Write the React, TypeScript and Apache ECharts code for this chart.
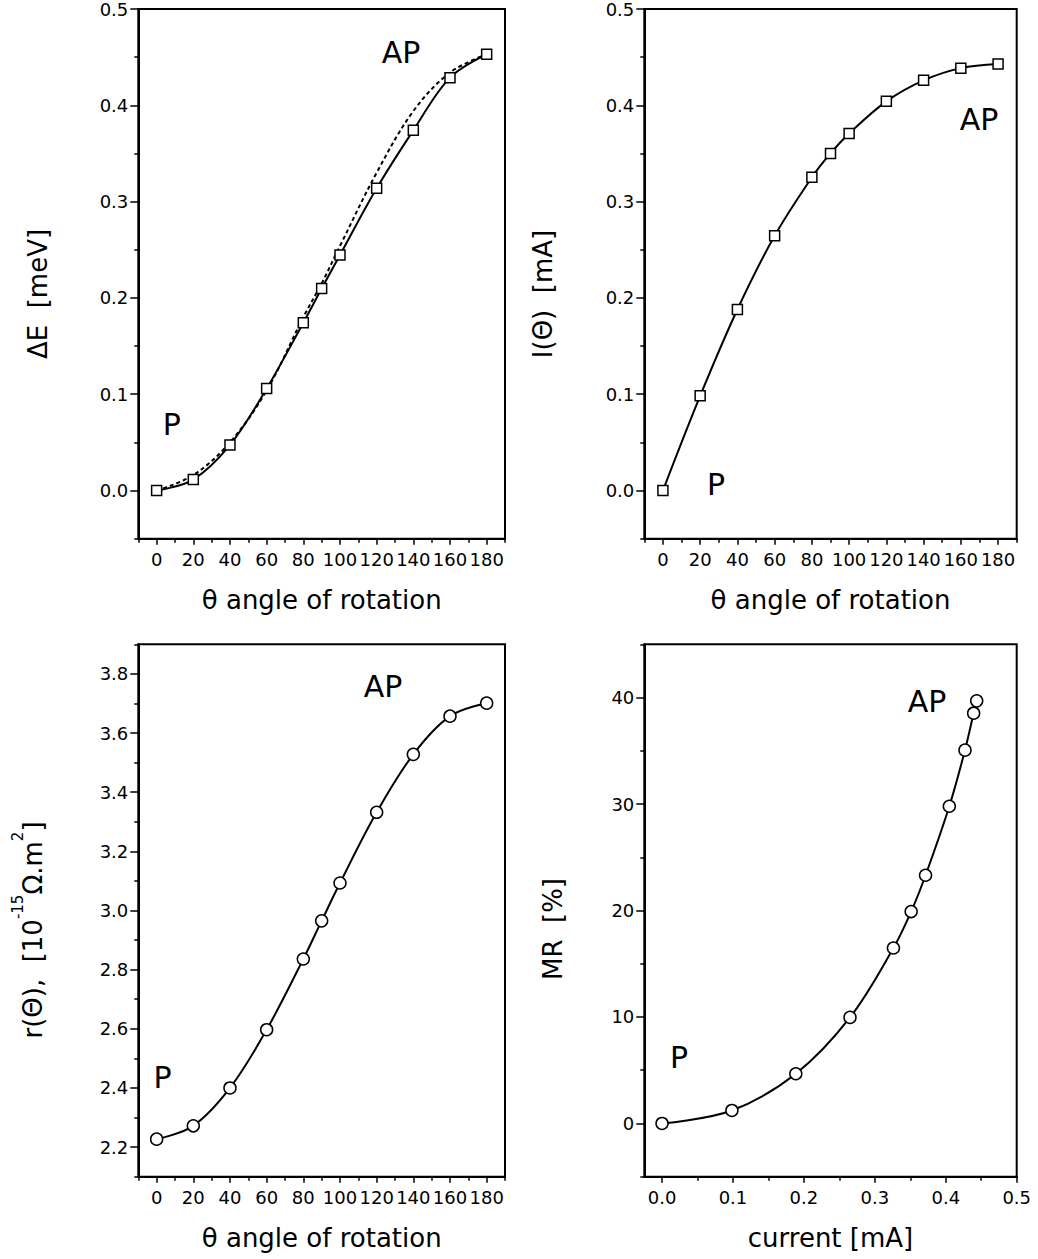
import React, { useEffect, useRef } from 'react';
import * as echarts from 'echarts';

const FONT = '"DejaVu Sans", "Liberation Sans", sans-serif';

// ---- data ----
const angleDeg = [0, 20, 40, 60, 80, 90, 100, 120, 140, 160, 180];
const deltaE = [0, 0.0114, 0.0473, 0.1059, 0.1742, 0.2097, 0.2445, 0.3138, 0.374, 0.4287, 0.453];
const deltaETheory = [0, 0.016, 0.05, 0.104, 0.18, 0.215, 0.254, 0.33, 0.394, 0.434, 0.453];
const currentI = [0, 0.0983, 0.188, 0.2645, 0.3252, 0.35, 0.3707, 0.4041, 0.4259, 0.4386, 0.4428];
const resistR = [2.227, 2.272, 2.4, 2.597, 2.836, 2.965, 3.093, 3.332, 3.528, 3.657, 3.701];
const mrCurrent = [0, 0.0985, 0.1886, 0.265, 0.3262, 0.3512, 0.3715, 0.405, 0.4271, 0.4393, 0.4436];
const mrPercent = [0, 1.22, 4.67, 9.96, 16.48, 19.9, 23.31, 29.79, 35.06, 38.53, 39.69];

// ---- tick values ----
const angleMajor = [0, 20, 40, 60, 80, 100, 120, 140, 160, 180];
const angleMinor = [-10, 10, 30, 50, 70, 90, 110, 130, 150, 170, 190];
const smallMajor = [0, 0.1, 0.2, 0.3, 0.4, 0.5];
const smallMinor = [-0.05, 0.05, 0.15, 0.25, 0.35, 0.45];
const rMajor = [2.2, 2.4, 2.6, 2.8, 3.0, 3.2, 3.4, 3.6, 3.8];
const rMinor = [2.1, 2.3, 2.5, 2.7, 2.9, 3.1, 3.3, 3.5, 3.7, 3.9];
const mrMajor = [0, 10, 20, 30, 40];
const mrMinor = [-5, 5, 15, 25, 35, 45];
const curMajor = [0, 0.1, 0.2, 0.3, 0.4, 0.5];
const curMinor = [0.05, 0.15, 0.25, 0.35, 0.45];

const grids = [
  { left: 138.3, top: 7.3, width: 366.7, height: 531.4 },
  { left: 644.3, top: 7.3, width: 372.4, height: 531.4 },
  { left: 138.3, top: 644.3, width: 366.7, height: 532.4 },
  { left: 644.3, top: 644.3, width: 372.4, height: 532.4 },
];

function axisPair(
  dim: 'x' | 'y',
  gridIndex: number,
  min: number,
  max: number,
  major: number[],
  minor: number[],
  fmt: (v: number) => string
) {
  const base: any = {
    type: 'value',
    gridIndex,
    min,
    max,
    position: dim === 'x' ? 'bottom' : 'left',
    splitLine: { show: false },
  };
  return [
    {
      ...base,
      axisLine: { show: true, onZero: false, lineStyle: { color: '#000', width: 2 } },
      axisTick: {
        show: true,
        customValues: major,
        length: dim === 'x' ? 6 : 8,
        lineStyle: { color: '#000', width: 1.5 },
      },
      axisLabel: {
        show: true,
        customValues: major,
        formatter: fmt,
        color: '#000',
        fontFamily: FONT,
        fontSize: 18,
        margin: dim === 'x' ? 12 : 10,
        showMinLabel: true,
        showMaxLabel: true,
      },
    },
    {
      ...base,
      axisLine: { show: false, onZero: false },
      axisTick: {
        show: true,
        customValues: minor,
        length: 4,
        lineStyle: { color: '#000', width: 1.5 },
      },
      axisLabel: { show: false },
    },
  ];
}

const fmtInt = (v: number) => String(Math.round(v));
const fmt1 = (v: number) => v.toFixed(1);

function pairs(xs: number[], ys: number[]) {
  return xs.map((x, i) => [x, ys[i]]);
}

const markerSeries = (
  idx: number,
  xs: number[],
  ys: number[],
  symbol: string,
  size: number
) => ({
  type: 'line',
  xAxisIndex: idx * 2,
  yAxisIndex: idx * 2,
  data: pairs(xs, ys),
  smooth: 0.35,
  symbol,
  symbolSize: size,
  showSymbol: true,
  silent: true,
  z: 5,
  itemStyle: { color: '#fff', borderColor: '#000', borderWidth: 1.5 },
  lineStyle: { color: '#000', width: 2 },
});

function label(text: string, x: number, y: number, size = 30) {
  return {
    type: 'text',
    x,
    y,
    silent: true,
    style: {
      text,
      fill: '#000',
      fontFamily: FONT,
      fontSize: size,
      align: 'center',
      verticalAlign: 'middle',
    },
  };
}

function vLabel(text: string, x: number, y: number, rich?: any) {
  return {
    type: 'text',
    x,
    y,
    rotation: Math.PI / 2,
    silent: true,
    style: {
      text,
      fill: '#000',
      fontFamily: FONT,
      fontSize: 26,
      align: 'center',
      verticalAlign: 'middle',
      rich,
    },
  };
}

export default function App() {
  const ref = useRef<HTMLDivElement>(null);

  useEffect(() => {
    if (!ref.current) return;
    const chart = echarts.init(ref.current, undefined, { renderer: 'svg' });

    const xAxis = [
      ...axisPair('x', 0, -10, 190, angleMajor, angleMinor, fmtInt),
      ...axisPair('x', 1, -10, 190, angleMajor, angleMinor, fmtInt),
      ...axisPair('x', 2, -10, 190, angleMajor, angleMinor, fmtInt),
      ...axisPair('x', 3, -0.025, 0.5, curMajor, curMinor, fmt1),
    ];
    const yAxis = [
      ...axisPair('y', 0, -0.05, 0.5, smallMajor, smallMinor, fmt1),
      ...axisPair('y', 1, -0.05, 0.5, smallMajor, smallMinor, fmt1),
      ...axisPair('y', 2, 2.1, 3.9, rMajor, rMinor, fmt1),
      ...axisPair('y', 3, -5, 45, mrMajor, mrMinor, fmtInt),
    ];

    const richR = {
      n: { fontFamily: FONT, fontSize: 26, lineHeight: 36, verticalAlign: 'bottom', fill: '#000' },
      s: { fontFamily: FONT, fontSize: 15, lineHeight: 15, verticalAlign: 'top', fill: '#000' },
    };

    const option: any = {
      animation: false,
      backgroundColor: '#fff',
      grid: grids.map((g) => ({
        ...g,
        show: true,
        borderColor: '#000',
        borderWidth: 2,
        backgroundColor: 'transparent',
        containLabel: false,
      })),
      xAxis,
      yAxis,
      series: [
        {
          type: 'line',
          xAxisIndex: 0,
          yAxisIndex: 0,
          data: pairs(angleDeg, deltaETheory),
          smooth: 0.35,
          symbol: 'none',
          silent: true,
          z: 3,
          lineStyle: { color: '#000', width: 2, type: [4, 3] },
        },
        markerSeries(0, angleDeg, deltaE, 'rect', 10),
        markerSeries(1, angleDeg, currentI, 'rect', 10),
        markerSeries(2, angleDeg, resistR, 'circle', 12),
        markerSeries(3, mrCurrent, mrPercent, 'circle', 12),
      ],
      graphic: [
        label('AP', 401, 52.5),
        label('P', 171.7, 424),
        label('AP', 979, 119),
        label('P', 716, 484),
        label('AP', 383, 686),
        label('P', 162.5, 1077),
        label('AP', 927, 701),
        label('P', 679, 1057),
        label('θ angle of rotation', 321.7, 600, 26),
        label('θ angle of rotation', 830.5, 600, 26),
        label('θ angle of rotation', 321.7, 1238, 26),
        label('current [mA]', 830.5, 1238, 26),
        vLabel('ΔE  [meV]', 38.3, 294),
        vLabel('I(Θ)  [mA]', 542.5, 294),
        vLabel('{n|r(Θ),  [10}{s|-15}{n|Ω.m}{s|2}{n|]}', 28.3, 930, richR),
        vLabel('MR  [%]', 552.5, 929),
      ],
    };

    chart.setOption(option);
    return () => chart.dispose();
  }, []);

  return (
    <div
      ref={ref}
      style={{ position: 'absolute', left: 0, top: 0, width: '1038px', height: '1259px' }}
    />
  );
}
